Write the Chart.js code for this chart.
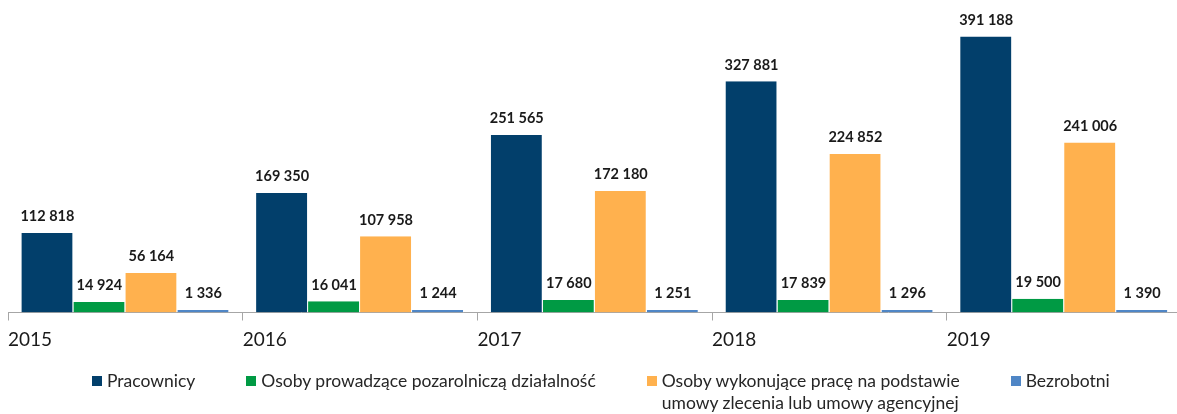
<!DOCTYPE html>
<html>
<head>
<meta charset="utf-8">
<script src="https://cdn.jsdelivr.net/npm/chart.js@4.4.1/dist/chart.umd.min.js"></script>
<style>
  html, body { margin: 0; padding: 0; background: #fff; overflow: hidden; }
  #wrap { position: relative; width: 1184px; height: 414px; }
  #legend {
    position: absolute; left: 92px; top: 370px;
    display: flex; align-items: flex-start; gap: 51px;
    font-family: Lato, "Open Sans", sans-serif; font-size: 17.5px; color: #262626;
    line-height: 22px;
  }
  #legend .item { display: flex; align-items: flex-start; }
  #legend .box { width: 10px; height: 10px; margin: 6px 5px 0 0; flex: none; }
</style>
</head>
<body>
<div id="wrap">
  <canvas id="chart" width="1184" height="414"></canvas>
  <div id="legend"></div>
</div>
<script>
const years = ['2015', '2016', '2017', '2018', '2019'];
const seriesNames = [
  'Pracownicy',
  'Osoby prowadzące pozarolniczą działalność',
  ['Osoby wykonujące pracę na podstawie', 'umowy zlecenia lub umowy agencyjnej'],
  'Bezrobotni'
];
const pracownicy = [112818, 169350, 251565, 327881, 391188];
const dzialalnosc = [14924, 16041, 17680, 17839, 19500];
const zlecenia = [56164, 107958, 172180, 224852, 241006];
const bezrobotni = [1336, 1244, 1251, 1296, 1390];
const colors = ['#023f6b', '#009a44', '#ffb14e', '#4f86c6'];

function fmt(v) {
  return String(v).replace(/\B(?=(\d{3})+(?!\d))/g, ' ');
}

const valueLabels = {
  id: 'valueLabels',
  afterDatasetsDraw(chart) {
    const ctx = chart.ctx;
    ctx.save();
    ctx.font = 'bold 14.5px Lato, "Open Sans", sans-serif';
    ctx.fillStyle = '#1a1a1a';
    ctx.textAlign = 'center';
    ctx.textBaseline = 'bottom';
    chart.data.datasets.forEach((ds, i) => {
      chart.getDatasetMeta(i).data.forEach((bar, j) => {
        ctx.fillText(fmt(ds.data[j]), bar.x, bar.y - 9);
      });
    });
    ctx.restore();
  }
};

const yearLabels = {
  id: 'yearLabels',
  afterDraw(chart) {
    const x = chart.scales.x;
    const ctx = chart.ctx;
    const step = (x.right - x.left) / years.length;
    ctx.save();
    ctx.font = '19px Lato, "Open Sans", sans-serif';
    ctx.fillStyle = '#1a1a1a';
    ctx.textAlign = 'left';
    ctx.textBaseline = 'middle';
    years.forEach((y, i) => {
      ctx.fillText(y, x.getPixelForValue(i) - step / 2, 340);
    });
    ctx.restore();
  }
};

const chart = new Chart(document.getElementById('chart'), {
  type: 'bar',
  data: {
    labels: years,
    datasets: [pracownicy, dzialalnosc, zlecenia, bezrobotni].map((d, i) => ({
      label: seriesNames[i],
      data: d,
      backgroundColor: colors[i],
      borderColor: '#ffffff',
      borderWidth: { left: 0, right: 1, top: 0, bottom: 0 },
      borderSkipped: false,
      minBarLength: 2.5,
      categoryPercentage: 0.886,
      barPercentage: 1
    }))
  },
  options: {
    responsive: false,
    animation: false,
    layout: { padding: { left: 8, right: 2.5, top: 0, bottom: 93.5 } },
    plugins: { legend: { display: false }, tooltip: { enabled: false } },
    scales: {
      x: {
        grid: { offset: true, drawOnChartArea: false, drawTicks: true, tickLength: 8, color: '#a6a6a6' },
        border: { display: true, color: '#a6a6a6' },
        ticks: { display: false }
      },
      y: { display: false, min: 0, max: 443000 }
    }
  },
  plugins: [valueLabels, yearLabels]
});

const legend = document.getElementById('legend');
chart.data.datasets.forEach(ds => {
  const item = document.createElement('div');
  item.className = 'item';
  const box = document.createElement('span');
  box.className = 'box';
  box.style.background = ds.backgroundColor;
  const text = document.createElement('span');
  text.innerHTML = [].concat(ds.label).join('<br>');
  item.appendChild(box);
  item.appendChild(text);
  legend.appendChild(item);
});
</script>
</body>
</html>
